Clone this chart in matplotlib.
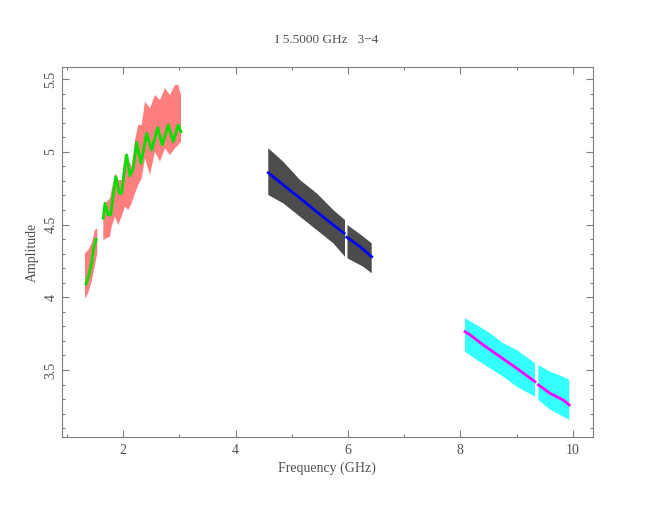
import matplotlib
matplotlib.use("Agg")
import matplotlib.pyplot as plt
import numpy as np

nan = np.nan

# red cloud (low band), envelope; nan = gap between sub-bands
red_freq = [1.319, 1.377, 1.438, 1.497, 1.538, nan,
            1.645, 1.705, 1.764, 1.794, 1.853, 1.911, 1.972, 2.031, 2.090, 2.150,
            2.209, 2.268, 2.329, 2.387, 2.476, 2.565, 2.654, 2.743, 2.832, 2.921,
            2.980, 3.028]
red_lo = [3.990, 4.030, 4.110, 4.220, 4.300, nan,
          4.394, 4.406, 4.417, 4.485, 4.554, 4.497, 4.554, 4.623, 4.600, 4.646,
          4.715, 4.772, 4.818, 4.955, 4.841, 5.001, 4.932, 5.024, 4.978, 5.024,
          5.047, 5.070]
red_hi = [4.303, 4.325, 4.371, 4.463, 4.474, nan,
          4.600, 4.657, 4.681, 4.738, 4.852, 4.806, 4.806, 4.990, 4.944, 4.898,
          5.081, 5.184, 5.184, 5.344, 5.299, 5.390, 5.356, 5.437, 5.390, 5.459,
          5.459, 5.390]

# green model line
green_freq = [1.337, 1.395, 1.438, 1.466, 1.515, nan,
              1.644, 1.675, 1.733, 1.776, 1.822, 1.870, 1.929, 1.972, 2.031, 2.061,
              2.120, 2.178, 2.239, 2.315, 2.417, 2.506, 2.613, 2.695, 2.801, 2.890,
              2.979, 3.027]
green_amp = [4.091, 4.165, 4.234, 4.325, 4.399, nan,
             4.543, 4.646, 4.566, 4.566, 4.703, 4.829, 4.715, 4.715, 4.898, 4.978,
             4.835, 4.887, 5.065, 4.921, 5.127, 5.012, 5.166, 5.047, 5.184, 5.070,
             5.184, 5.138]

# black cloud (middle band)
black_freq = [4.581, 4.848, 5.146, 5.443, 5.739, 5.947, nan, 5.990, 6.272, 6.422]
black_lo = [4.703, 4.646, 4.554, 4.463, 4.371, 4.279, nan, 4.268, 4.210, 4.165]
black_hi = [5.024, 4.932, 4.806, 4.715, 4.600, 4.531, nan, 4.497, 4.417, 4.371]

# blue model line
blue_freq = [4.581, 4.848, 5.146, 5.443, 5.739, 5.934, nan, 5.977, 6.214, 6.422]
blue_amp = [4.856, 4.772, 4.681, 4.588, 4.497, 4.440, nan, 4.413, 4.348, 4.279]

# cyan cloud (high band)
cyan_freq = [8.083, 8.291, 8.528, 8.765, 9.003, 9.329, nan, 9.388, 9.596, 9.832, 9.939]
cyan_lo = [3.626, 3.570, 3.512, 3.454, 3.386, 3.317, nan, 3.294, 3.228, 3.180, 3.157]
cyan_hi = [3.856, 3.810, 3.753, 3.684, 3.638, 3.547, nan, 3.535, 3.489, 3.454, 3.432]

# magenta model line
mag_freq = [8.083, 8.172, 8.409, 8.706, 9.003, 9.329, nan, 9.388, 9.596, 9.832, 9.939]
mag_amp = [3.764, 3.742, 3.672, 3.592, 3.512, 3.420, nan, 3.398, 3.340, 3.294, 3.260]

title = "I 5.5000 GHz   3\u22124"
xlabel = "Frequency (GHz)"
ylabel = "Amplitude"

grey = "#808080"
txt = "#505050"
font = "Liberation Serif"

fig = plt.figure(figsize=(6.54, 5.05), dpi=100)
ax = fig.add_axes([0.0943, 0.1347, 0.812, 0.7333])

ax.fill_between(red_freq, red_lo, red_hi, color="#ff0000", alpha=0.5, lw=0)
ax.plot(green_freq, green_amp, color="#00e000", lw=2)
ax.fill_between(black_freq, black_lo, black_hi, color="black", alpha=0.7, lw=0)
ax.plot(blue_freq, blue_amp, color="#0000ff", lw=2)
ax.fill_between(cyan_freq, cyan_lo, cyan_hi, color="#00ffff", alpha=0.8, lw=0)
ax.plot(mag_freq, mag_amp, color="#ff00ff", lw=2)

ax.set_xlim(0.904, 10.356)
ax.set_ylim(3.04, 5.585)
ax.set_xticks([2, 4, 6, 8, 10])
ax.set_xticks(np.arange(1, 11, 1), minor=True)
ax.set_yticks([3.5, 4, 4.5, 5, 5.5])
ax.set_yticks(np.arange(3.1, 5.59, 0.1), minor=True)
ax.set_xticklabels(["2", "4", "6", "8", "10"])
ax.set_yticklabels(["3.5", "4", "4.5", "5", "5.5"], rotation=90, va="center")

ax.tick_params(which="both", direction="in", top=True, right=True, color=grey,
               labelcolor=txt, labelsize=10, width=0.8)
ax.tick_params(which="major", length=5)
ax.tick_params(which="minor", length=2.5)
ax.tick_params(axis="x", pad=5)
ax.tick_params(axis="y", pad=3)
for lab in ax.get_xticklabels() + ax.get_yticklabels():
    lab.set_fontfamily(font)
for s in ax.spines.values():
    s.set_color(grey)
    s.set_linewidth(0.8)

fig.text(0.5, 1 - 40 / 505, title, ha="center", va="center", color=txt,
         fontsize=9.5, family=font)
fig.text(327 / 654, 1 - 468 / 505, xlabel, ha="center", va="center", color=txt,
         fontsize=10, family=font)
fig.text(32 / 654, 1 - 252 / 505, ylabel, ha="center", va="center", color=txt,
         fontsize=10, family=font, rotation=90)

fig.savefig("out.png", dpi=100)
